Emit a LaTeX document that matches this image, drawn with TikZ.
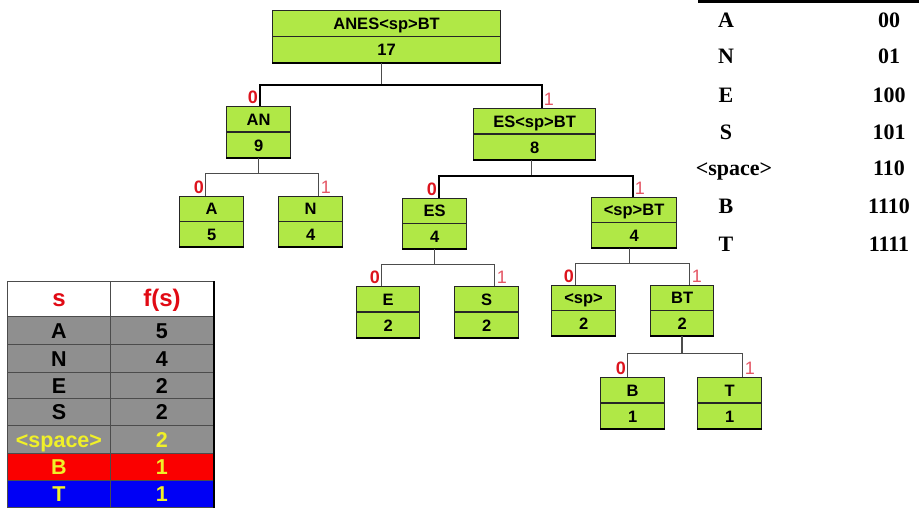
\documentclass[tikz,border=0pt]{standalone}
\usepackage{fontspec}
\setmainfont{Liberation Sans}
\newfontfamily\serifbf{Liberation Serif}[BoldFont={Liberation Serif Bold}]
\usetikzlibrary{calc}
\definecolor{boxgreen}{RGB}{176,232,70}
\definecolor{cellgray}{RGB}{143,143,143}
\definecolor{lblred}{RGB}{220,20,30}
\definecolor{lblpink}{RGB}{228,85,100}
\definecolor{hdrred}{RGB}{225,10,20}
\definecolor{ylw}{RGB}{240,240,40}
\definecolor{cellred}{RGB}{250,0,0}
\definecolor{cellblue}{RGB}{0,0,245}
\tikzset{
  hbox/.style={draw=black!85, line width=1.2pt, fill=boxgreen, inner sep=0pt},
  hdiv/.style={draw=black!85, line width=1.4pt},
  hshadow/.style={draw=black, line width=2pt},
  htext/.style={inner sep=0pt, text height=12pt, text depth=0pt, font=\fontsize{16.5}{18}\selectfont\bfseries},
  conn/.style={draw=black!70, line width=1.3pt},
  thickconn/.style={draw=black, line width=2.2pt},
  lblzero/.style={inner sep=0pt, text=lblred, font=\fontsize{18}{20}\selectfont\bfseries},
  lblone/.style={inner sep=0pt, text=lblpink, font=\fontsize{18}{20}\selectfont},
  tcellstyle/.style={draw=black!70, line width=0.9pt, inner sep=0pt, text height=15.5pt, text depth=0pt, font=\fontsize{21.5}{24}\selectfont\bfseries},
  codetext/.style={inner sep=0pt, anchor=base, font=\fontsize{22}{24}\selectfont\serifbf\bfseries}
}
\newcommand\hnode[7]{%
  \node[hbox, minimum width={#4-#2}, minimum height={#5-#3}, anchor=north west] (#1) at (#2,#3) {};
  \draw[hdiv] (#1.west) -- (#1.east);
  \draw[hshadow] (#1.south west) -- (#1.south east);
  \node[htext] (#1-l) at ($(#1.north)!0.5!(#1.center)$) {#6};
  \node[htext] (#1-n) at ($(#1.center)!0.5!(#1.south)$) {#7};
}
\newcommand\tcell[8]{%
  \node[tcellstyle, fill=#6, text=#7, minimum width={#4-#2}, minimum height={#5-#3}, anchor=north west] (#1) at (#2,#3) {#8};
}
\newcommand\zerolbl[3]{\node[lblzero, anchor=south east] (#1) at ([xshift=#3-1.5pt, yshift=2pt]#2.north) {0};}
\newcommand\onelbl[3]{\node[lblone, anchor=south west] (#1) at ([xshift=#3+2pt, yshift=2pt]#2.north) {1};}
\begin{document}
\begin{tikzpicture}[x=1pt, y=-1pt]
\useasboundingbox (0,0) rectangle (919,507);
% ---------- tree nodes ----------
\hnode{root}{272}{10}{500}{62}{ANES<sp>BT}{17}
\hnode{AN}{226}{106}{290}{157}{AN}{9}
\hnode{ESBT}{473}{108}{595}{159}{ES<sp>BT}{8}
\hnode{A}{179}{196}{243}{246}{A}{5}
\hnode{N}{278}{196}{342}{246}{N}{4}
\hnode{ES}{402}{198}{466}{248}{ES}{4}
\hnode{SPBT}{591}{197}{676}{247}{<sp>BT}{4}
\hnode{E}{356}{286}{419}{337}{E}{2}
\hnode{S}{454}{286}{518}{337}{S}{2}
\hnode{SP}{551}{285}{615}{335}{<sp>}{2}
\hnode{BT}{650}{285}{713}{335}{BT}{2}
\hnode{B}{600}{377}{664}{428}{B}{1}
\hnode{T}{697}{377}{761}{428}{T}{1}
% ---------- connectors ----------
\draw[conn] ([xshift=-5pt]root.south) -- ++(0,22) coordinate (rootbar);
\draw[thickconn] (rootbar) -| ([xshift=1pt]AN.north);
\draw[thickconn] (rootbar) -| ([xshift=7pt]ESBT.north);
\draw[conn] (AN.south) -- ++(0,15) coordinate (ANbar);
\draw[conn] (ANbar) -| ([xshift=-6pt]A.north);
\draw[conn] (ANbar) -| ([xshift=8pt]N.north);
\draw[conn] ([xshift=-3pt]ESBT.south) -- ++(0,16) coordinate (ESBTbar);
\draw[thickconn] (ESBTbar) -| ([xshift=4pt]ES.north);
\draw[thickconn] (ESBTbar) -| ([xshift=-1.5pt]SPBT.north);
\draw[conn] (ES.south) -- ++(0,15) coordinate (ESbar);
\draw[conn] (ESbar) -| ([xshift=-6.5pt]E.north);
\draw[conn] (ESbar) -| ([xshift=8pt]S.north);
\draw[conn] ([xshift=-4.5pt]SPBT.south) -- ++(0,15) coordinate (SPBTbar);
\draw[conn] (SPBTbar) -| ([xshift=-8pt]SP.north);
\draw[conn] (SPBTbar) -| ([xshift=7.5pt]BT.north);
\draw[conn] (BT.south) -- ++(0,17) coordinate (BTbar);
\draw[conn] (BTbar) -| ([xshift=-5pt]B.north);
\draw[conn] (BTbar) -| ([xshift=13pt]T.north);
% ---------- 0/1 labels ----------
\zerolbl{l0AN}{AN}{1pt}
\onelbl{l1ESBT}{ESBT}{7pt}
\zerolbl{l0A}{A}{-6pt}
\onelbl{l1N}{N}{8pt}
\zerolbl{l0ES}{ES}{4pt}
\onelbl{l1SPBT}{SPBT}{-1.5pt}
\zerolbl{l0E}{E}{-6.5pt}
\onelbl{l1S}{S}{8pt}
\zerolbl{l0SP}{SP}{-8pt}
\onelbl{l1BT}{BT}{7.5pt}
\zerolbl{l0B}{B}{-5pt}
\onelbl{l1T}{T}{13pt}
% ---------- frequency table ----------
\tcell{h1}{7}{281}{110}{316}{white}{hdrred}{\fontsize{24}{26}\selectfont s}
\tcell{h2}{110}{281}{213}{316}{white}{hdrred}{\fontsize{24}{26}\selectfont f(s)}
\tcell{r1a}{7}{316}{110}{344}{cellgray}{black}{A}
\tcell{r1b}{110}{316}{213}{344}{cellgray}{black}{5}
\tcell{r2a}{7}{344}{110}{372}{cellgray}{black}{N}
\tcell{r2b}{110}{344}{213}{372}{cellgray}{black}{4}
\tcell{r3a}{7}{372}{110}{398}{cellgray}{black}{E}
\tcell{r3b}{110}{372}{213}{398}{cellgray}{black}{2}
\tcell{r4a}{7}{398}{110}{425}{cellgray}{black}{S}
\tcell{r4b}{110}{398}{213}{425}{cellgray}{black}{2}
\tcell{r5a}{7}{425}{110}{453}{cellgray}{ylw}{<space>}
\tcell{r5b}{110}{425}{213}{453}{cellgray}{ylw}{2}
\tcell{r6a}{7}{453}{110}{480}{cellred}{ylw}{B}
\tcell{r6b}{110}{453}{213}{480}{cellred}{ylw}{1}
\tcell{r7a}{7}{480}{110}{507}{cellblue}{ylw}{T}
\tcell{r7b}{110}{480}{213}{507}{cellblue}{ylw}{1}
\draw[line width=2.2pt, black] (h2.north east) -- (r7b.south east);
% ---------- code table ----------
\draw[line width=3pt, black] (698,1.5) -- (919,1.5);
\node[codetext] (cA) at (726,27) {A};
\node[codetext] (kA) at (889,27) {00};
\node[codetext] (cN) at (726,63) {N};
\node[codetext] (kN) at (889,63) {01};
\node[codetext] (cE) at (726,102) {E};
\node[codetext] (kE) at (889,102) {100};
\node[codetext] (cS) at (726,139) {S};
\node[codetext] (kS) at (889,139) {101};
\begin{scope}
\clip (695,140) rectangle (800,200);
\node[codetext] (cSp) at (734,175) {<space>};
\end{scope}
\node[codetext] (kSp) at (889,175) {110};
\node[codetext] (cB) at (726,213) {B};
\node[codetext] (kB) at (889,213) {1110};
\node[codetext] (cT) at (726,251) {T};
\node[codetext] (kT) at (889,251) {1111};
\end{tikzpicture}
\end{document}
